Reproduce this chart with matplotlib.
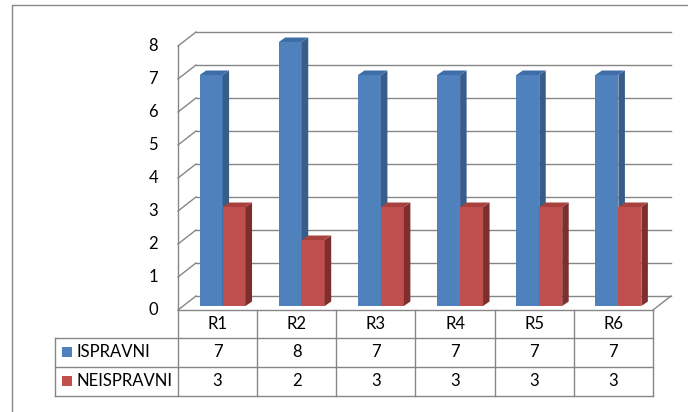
import matplotlib.pyplot as plt
from matplotlib.patches import Polygon, Rectangle
from matplotlib.lines import Line2D
from matplotlib.transforms import ScaledTranslation, IdentityTransform

plt.rcParams['font.family'] = ['Lato', 'DejaVu Sans']

categories = ["R1", "R2", "R3", "R4", "R5", "R6"]
ispravni = [7, 8, 7, 7, 7, 7]
neispravni = [3, 2, 3, 3, 3, 3]
series_names = ["ISPRAVNI", "NEISPRAVNI"]
y_ticks = [0, 1, 2, 3, 4, 5, 6, 7, 8]

# front, side, top colours for each series
face_colors = [("#4F81BD", "#385D8A", "#3F6DA8"),
               ("#C0504D", "#7E2F2D", "#A8423F")]
line_col = "#868686"
fs = 12

W, H = 688, 412
fig = plt.figure(figsize=(W / 100, H / 100), dpi=100)
ax = fig.add_axes([178 / W, (H - 310) / H, (653 - 178) / W, (310 - 46) / H])
ax.set_xlim(-0.5, 5.5)
ax.set_ylim(0, 8)
ax.axis("off")

ident = IdentityTransform()


def shift(dx, dy):
    # pixel offset added after the data transform
    return ax.transData + ScaledTranslation(dx / 100, dy / 100, fig.dpi_scale_trans)


def disp(x, y, dx=0, dy=0):
    X, Y = ax.transData.transform((x, y))
    return (X + dx, Y + dy)


def seg(p, q):
    ax.add_line(Line2D([p[0], q[0]], [p[1], q[1]], transform=ident,
                       color=line_col, lw=1.0, clip_on=False, zorder=0.5))


# wall depth and bar depth in pixels
WD = (18, 14)
BF = (5, 4)
BB = (11.5, 8.5)

x0, x1 = -0.5, len(categories) - 0.5

# back wall gridlines and left wall diagonals
for v in y_ticks:
    ax.plot([x0, x1], [v, v], color=line_col, lw=1.0, clip_on=False,
            transform=shift(*WD), zorder=0.5)
    seg(disp(x0, v), disp(x0, v, *WD))
    ax.text(x0, v, str(v), transform=shift(-20, 0), ha="right", va="center",
            fontsize=fs)

# left wall front edge and floor outline
seg(disp(x0, 0), disp(x0, 8))
seg(disp(x0, 0), disp(x1, 0))
seg(disp(x1, 0), disp(x1, 0, *WD))

# bars with side and top faces
bw = 0.29
for s, vals in enumerate([ispravni, neispravni]):
    front, side, top = face_colors[s]
    for i, v in enumerate(vals):
        left = i - bw + s * bw
        ax.bar(left, v, bw, align="edge", color=front, lw=0, clip_on=False,
               transform=shift(*BF))
        r0 = disp(left + bw, 0, *BF)
        r1 = disp(left + bw, v, *BF)
        r2 = disp(left + bw, v, *BB)
        r3 = disp(left + bw, 0, *BB)
        ax.add_patch(Polygon([r0, r1, r2, r3], closed=True, transform=ident,
                             facecolor=side, lw=0, clip_on=False))
        t0 = disp(left, v, *BF)
        t1 = disp(left, v, *BB)
        ax.add_patch(Polygon([t0, r1, r2, t1], closed=True, transform=ident,
                             facecolor=top, lw=0, clip_on=False))

# data table under the chart
row_y = [0, -0.848, -1.727, -2.606]
leg_x = x0 - (178 - 55) / 79.17
for i, cat in enumerate(categories):
    ax.text(i, (row_y[0] + row_y[1]) / 2, cat, ha="center", va="center",
            fontsize=fs, clip_on=False)
    ax.text(i, (row_y[1] + row_y[2]) / 2, str(ispravni[i]), ha="center",
            va="center", fontsize=fs, clip_on=False)
    ax.text(i, (row_y[2] + row_y[3]) / 2, str(neispravni[i]), ha="center",
            va="center", fontsize=fs, clip_on=False)

for k in range(len(categories) + 1):
    ax.plot([x0 + k, x0 + k], [row_y[0], row_y[3]], color=line_col, lw=1.0,
            clip_on=False)
for r in row_y[1:]:
    ax.plot([leg_x, x1], [r, r], color=line_col, lw=1.0, clip_on=False)
ax.plot([leg_x, leg_x], [row_y[1], row_y[3]], color=line_col, lw=1.0,
        clip_on=False)

for s, name in enumerate(series_names):
    yc = (row_y[s + 1] + row_y[s + 2]) / 2
    kx, ky = disp(leg_x, yc)
    ax.add_patch(Rectangle((kx + 7, ky - 5), 10, 10, transform=ident,
                           facecolor=face_colors[s][0], lw=0, clip_on=False))
    fig.text((kx + 21) / W, ky / H, name, ha="left", va="center",
             fontsize=fs)

# chart area border (top and left edges)
fig.add_artist(Line2D([12 / W, 12 / W, 1], [0, (H - 5) / H, (H - 5) / H],
                      transform=fig.transFigure, color=line_col, lw=1.0))

fig.savefig("out.png", dpi=100)
